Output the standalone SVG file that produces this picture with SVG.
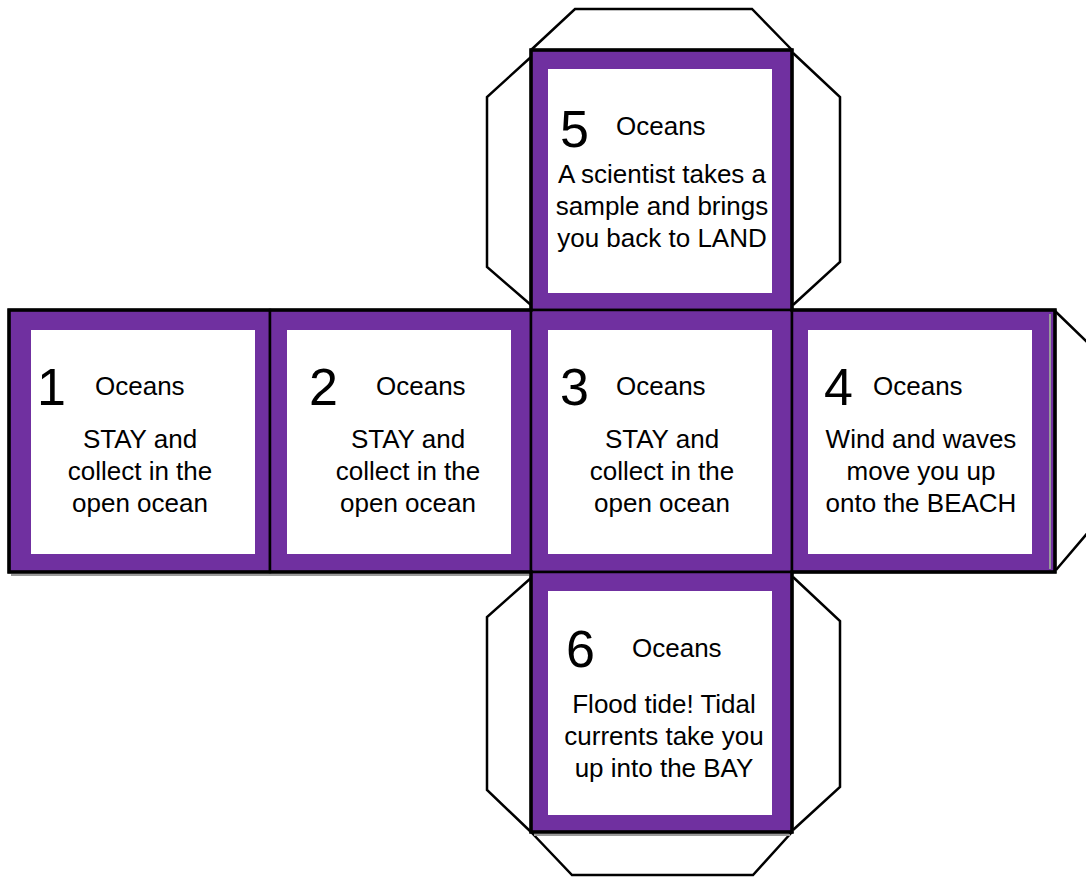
<svg xmlns="http://www.w3.org/2000/svg" width="1086" height="878" viewBox="0 0 1086 878">
<style>
.bg{fill:#ffffff}
.flap{fill:#ffffff;stroke:#000000;stroke-width:2.5;stroke-linejoin:miter}
.face{fill:#7030A0;stroke:#000000;stroke-width:2.5}
.inner{fill:#ffffff}
.num{font-family:"Liberation Sans",Arial,sans-serif;font-size:52px;fill:#000}
.ttl{font-family:"Liberation Sans",Arial,sans-serif;font-size:26px;fill:#000}
.body{font-family:"Liberation Sans",Arial,sans-serif;font-size:26px;fill:#000;text-anchor:middle}
.outline{fill:none;stroke:#000000;stroke-width:3.5}
.shadow{fill:none;stroke:#9a9a9a;stroke-width:2}
</style>
<rect class="bg" x="0" y="0" width="1086" height="878"/>
<g id="connectors">
  <!-- flaps -->
  <polyline class="flap" points="531,50 575,9 752,9 792,50"/>
  <polyline class="flap" points="531,57 487,97 487,267 531,305"/>
  <polyline class="flap" points="793,53 840,97 840,262 793,305"/>
  <polyline class="flap" points="531,578 487,617 487,790 531,832"/>
  <polyline class="flap" points="793,577 840,621 840,787 793,830"/>
  <polyline class="flap" points="531,832 572,875 753,875 792,832"/>
  <polyline class="flap" points="1055,311 1090,345 1090,530 1056,570"/>
</g>
<g id="face5">
  <rect class="face" x="531" y="50" width="261" height="260"/>
  <rect class="inner" x="548" y="69" width="224" height="224"/>
  <text class="num" x="560" y="147">5</text>
  <text class="ttl" x="616" y="135">Oceans</text>
  <text class="body" x="662" y="183">A scientist takes a</text>
  <text class="body" x="662" y="215">sample and brings</text>
  <text class="body" x="662" y="247">you back to LAND</text>
</g>
<g id="face1">
  <rect class="face" x="9" y="310" width="261" height="262"/>
  <rect class="inner" x="31" y="330" width="224" height="224"/>
  <text class="num" x="37" y="405">1</text>
  <text class="ttl" x="95" y="395">Oceans</text>
  <text class="body" x="140" y="448">STAY and</text>
  <text class="body" x="140" y="480">collect in the</text>
  <text class="body" x="140" y="512">open ocean</text>
</g>
<g id="face2">
  <rect class="face" x="270" y="310" width="261" height="262"/>
  <rect class="inner" x="287" y="330" width="224" height="224"/>
  <text class="num" x="309" y="405">2</text>
  <text class="ttl" x="376" y="395">Oceans</text>
  <text class="body" x="408" y="448">STAY and</text>
  <text class="body" x="408" y="480">collect in the</text>
  <text class="body" x="408" y="512">open ocean</text>
</g>
<g id="face3">
  <rect class="face" x="531" y="310" width="261" height="262"/>
  <rect class="inner" x="548" y="330" width="224" height="224"/>
  <text class="num" x="560" y="405">3</text>
  <text class="ttl" x="616" y="395">Oceans</text>
  <text class="body" x="662" y="448">STAY and</text>
  <text class="body" x="662" y="480">collect in the</text>
  <text class="body" x="662" y="512">open ocean</text>
</g>
<g id="face4">
  <rect class="face" x="792" y="310" width="263" height="262"/>
  <rect class="inner" x="808" y="330" width="224" height="224"/>
  <text class="num" x="824" y="405">4</text>
  <text class="ttl" x="873" y="395">Oceans</text>
  <text class="body" x="921" y="448">Wind and waves</text>
  <text class="body" x="921" y="480">move you up</text>
  <text class="body" x="921" y="512">onto the BEACH</text>
</g>
<g id="face6">
  <rect class="face" x="531" y="572" width="261" height="260"/>
  <rect class="inner" x="548" y="591" width="224" height="224"/>
  <text class="num" x="566" y="667">6</text>
  <text class="ttl" x="632" y="657">Oceans</text>
  <text class="body" x="664" y="713">Flood tide! Tidal</text>
  <text class="body" x="664" y="745">currents take you</text>
  <text class="body" x="664" y="777">up into the BAY</text>
</g>
<g id="outline">
  <path class="shadow" d="M11,575 H529 M1050,314 V569 M534,835 H790"/>
  <path class="outline" d="M531,50 H792 V310 H1055 V572 H792 V832 H531 V572 H9 V310 H531 Z"/>
</g>
</svg>
